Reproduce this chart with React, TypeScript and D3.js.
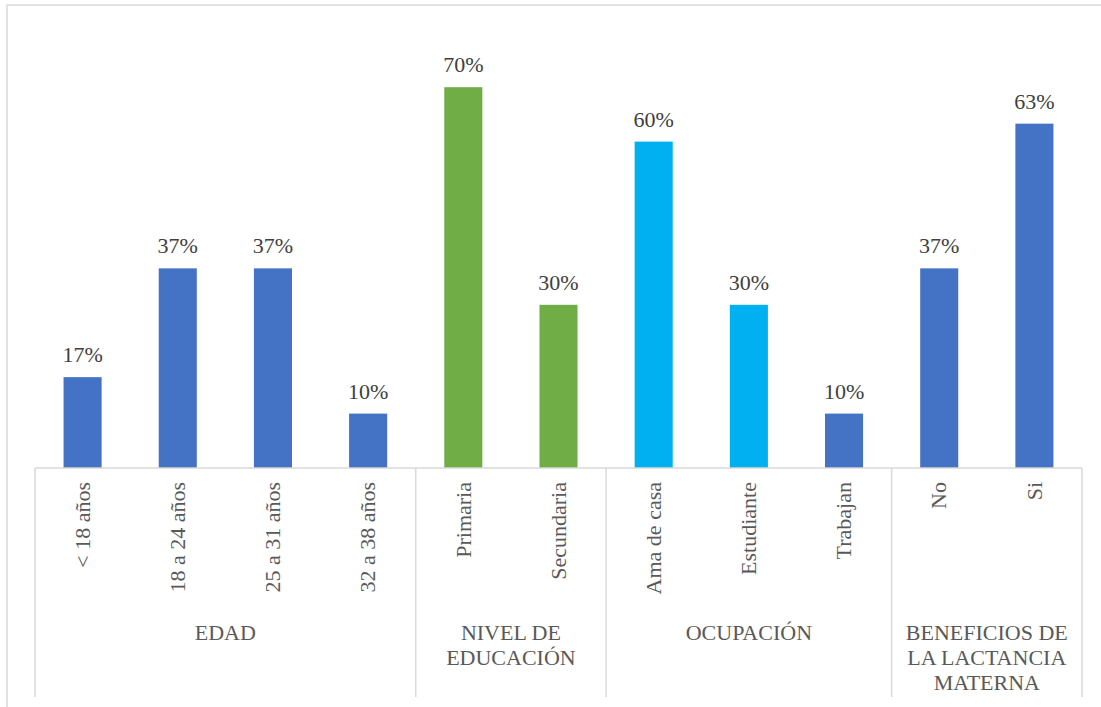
import React, { useEffect, useRef } from "react";
import * as d3 from "d3";

const categories = [
  "< 18 años", "18 a 24 años", "25 a 31 años", "32 a 38 años",
  "Primaria", "Secundaria",
  "Ama de casa", "Estudiante", "Trabajan",
  "No", "Si",
];
const values = [0.167, 0.367, 0.367, 0.1, 0.7, 0.3, 0.6, 0.3, 0.1, 0.367, 0.633];
const valueLabels = ["17%", "37%", "37%", "10%", "70%", "30%", "60%", "30%", "10%", "37%", "63%"];
const barColors = [
  "#4472C4", "#4472C4", "#4472C4", "#4472C4",
  "#70AD47", "#70AD47",
  "#00B0F0", "#00B0F0", "#4472C4",
  "#4472C4", "#4472C4",
];
const groupNames = [
  ["EDAD"],
  ["NIVEL DE", "EDUCACIÓN"],
  ["OCUPACIÓN"],
  ["BENEFICIOS DE", "LA LACTANCIA", "MATERNA"],
];
const groupSizes = [4, 2, 3, 2];

const W = 1101;
const H = 707;
const left = 35;
const right = 1082;
const baseY = 468;
const FONT = "'Liberation Serif', 'Times New Roman', serif";
const FS = "22px";

export default function App() {
  const ref = useRef<SVGSVGElement>(null);
  useEffect(() => {
    const svg = d3.select(ref.current);
    svg.selectAll("*").remove();
    const x = d3.scaleBand<number>()
      .domain(d3.range(categories.length))
      .range([left, right])
      .paddingInner(0.6)
      .paddingOuter(0.3);
    const y = d3.scaleLinear().domain([0, 0.8]).range([baseY, baseY - 0.8 * 544]);
    const step = x.step();
    const starts: number[] = [];
    let acc = 0;
    groupSizes.forEach((s) => { starts.push(acc); acc += s; });
    const bounds = [...starts, acc].map((k) => left + k * step);

    svg.append("rect").attr("x", 7).attr("y", 5).attr("width", W + 20).attr("height", H + 20)
      .attr("fill", "#fff").attr("stroke", "#D9D9D9").attr("stroke-width", 1.5);

    svg.selectAll("rect.bar").data(values).enter().append("rect").attr("class", "bar")
      .attr("x", (_, i) => x(i) as number).attr("y", (d) => y(d))
      .attr("width", x.bandwidth()).attr("height", (d) => baseY - y(d))
      .attr("fill", (_, i) => barColors[i]);

    svg.selectAll("text.val").data(values).enter().append("text").attr("class", "val")
      .attr("x", (_, i) => (x(i) as number) + x.bandwidth() / 2)
      .attr("y", (d) => y(d) - 15)
      .attr("text-anchor", "middle")
      .style("font-family", FONT).style("font-size", FS)
      .attr("fill", "#404040")
      .text((_, i) => valueLabels[i]);

    svg.append("line").attr("x1", left).attr("x2", right).attr("y1", baseY).attr("y2", baseY)
      .attr("stroke", "#D9D9D9").attr("stroke-width", 1.5);
    svg.selectAll("line.sep").data(bounds).enter().append("line").attr("class", "sep")
      .attr("x1", (d) => d).attr("x2", (d) => d).attr("y1", baseY).attr("y2", 697)
      .attr("stroke", "#D9D9D9").attr("stroke-width", 1.5);

    svg.selectAll("text.cat").data(categories).enter().append("text").attr("class", "cat")
      .attr("transform", (_, i) => `translate(${(x(i) as number) + x.bandwidth() / 2},482) rotate(-90)`)
      .attr("text-anchor", "end").attr("dy", "0.33em")
      .style("font-family", FONT).style("font-size", FS)
      .attr("fill", "#595959")
      .text((d) => d);

    groupNames.forEach((lines, gi) => {
      const cx = (bounds[gi] + bounds[gi + 1]) / 2;
      const t = svg.append("text").attr("text-anchor", "middle")
        .style("font-family", FONT).style("font-size", FS).attr("fill", "#595959");
      lines.forEach((l, li) => {
        t.append("tspan").attr("x", cx).attr("y", 640 + li * 25).text(l);
      });
    });
  }, []);

  return (
    <svg ref={ref} width={W} height={H}
      style={{ position: "absolute", left: 0, top: 0, background: "#fff" }} />
  );
}
